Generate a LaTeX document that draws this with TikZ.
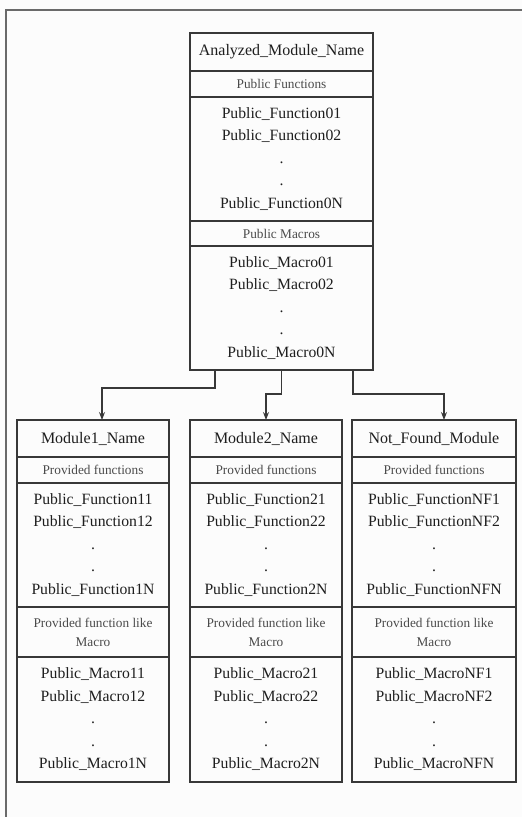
\documentclass[tikz,border=0pt]{standalone}
\usepackage{fontspec}
\setmainfont{Liberation Serif}
\usetikzlibrary{arrows.meta,calc}

\definecolor{edge}{HTML}{383838}
\definecolor{ink}{HTML}{1E1E1E}
\definecolor{inkheader}{HTML}{4A4A4A}
\definecolor{framegray}{HTML}{6A6A6A}
\definecolor{paper}{HTML}{FCFCFC}

\tikzset{
  cell/.style={draw=edge, line width=1.1pt, anchor=north west, inner sep=0pt,
               outer sep=0pt, align=center, text=ink},
  titlecell/.style={cell, font=\fontsize{16}{18}\selectfont},
  headcell/.style={cell, text=inkheader, font=\fontsize{13.3}{19}\selectfont},
  listcell/.style={cell, font=\fontsize{15.7}{22.5}\selectfont},
  link/.style={draw=edge, line width=1.1pt, -{Stealth[length=8pt,width=6pt]}},
}

\begin{document}
\begin{tikzpicture}[x=1pt,y=-1pt]
  \useasboundingbox (0,0) rectangle (522,817);
  \fill[paper] (0,0) rectangle (522,817);
  \draw[framegray, line width=1.4pt] (522,10) -- (6,10) -- (6,817);

  % analysed module
  \node[titlecell, minimum width=183pt, minimum height=38pt] (toptitle) at (190,33) {Analyzed\_Module\_Name};
  \node[headcell, minimum width=183pt, minimum height=26pt] (tophead) at (190,71) {Public Functions};
  \node[listcell, minimum width=183pt, minimum height=124pt] (topfun) at (190,97)
    {Public\_Function01\\Public\_Function02\\.\\.\\Public\_Function0N};
  \node[headcell, minimum width=183pt, minimum height=25pt] (topmhead) at (190,221) {Public Macros};
  \node[listcell, minimum width=183pt, minimum height=124pt] (topmac) at (190,246)
    {Public\_Macro01\\Public\_Macro02\\.\\.\\Public\_Macro0N};

  % module 1
  \node[titlecell, minimum width=152pt, minimum height=37pt] (m1title) at (17,420) {Module1\_Name};
  \node[headcell, minimum width=152pt, minimum height=26pt] (m1head) at (17,457) {Provided functions};
  \node[listcell, minimum width=152pt, minimum height=124pt] (m1fun) at (17,483)
    {Public\_Function11\\Public\_Function12\\.\\.\\Public\_Function1N};
  \node[headcell, minimum width=152pt, minimum height=50pt] (m1mhead) at (17,607) {Provided function like\\Macro};
  \node[listcell, minimum width=152pt, minimum height=125pt] (m1mac) at (17,657)
    {Public\_Macro11\\Public\_Macro12\\.\\.\\Public\_Macro1N};

  % module 2
  \node[titlecell, minimum width=152pt, minimum height=37pt] (m2title) at (190,420) {Module2\_Name};
  \node[headcell, minimum width=152pt, minimum height=26pt] (m2head) at (190,457) {Provided functions};
  \node[listcell, minimum width=152pt, minimum height=124pt] (m2fun) at (190,483)
    {Public\_Function21\\Public\_Function22\\.\\.\\Public\_Function2N};
  \node[headcell, minimum width=152pt, minimum height=50pt] (m2mhead) at (190,607) {Provided function like\\Macro};
  \node[listcell, minimum width=152pt, minimum height=125pt] (m2mac) at (190,657)
    {Public\_Macro21\\Public\_Macro22\\.\\.\\Public\_Macro2N};

  % module not found
  \node[titlecell, minimum width=164pt, minimum height=37pt] (m3title) at (352,420) {Not\_Found\_Module};
  \node[headcell, minimum width=164pt, minimum height=26pt] (m3head) at (352,457) {Provided functions};
  \node[listcell, minimum width=164pt, minimum height=124pt] (m3fun) at (352,483)
    {Public\_FunctionNF1\\Public\_FunctionNF2\\.\\.\\Public\_FunctionNFN};
  \node[headcell, minimum width=164pt, minimum height=50pt] (m3mhead) at (352,607) {Provided function like\\Macro};
  \node[listcell, minimum width=164pt, minimum height=125pt] (m3mac) at (352,657)
    {Public\_MacroNF1\\Public\_MacroNF2\\.\\.\\Public\_MacroNFN};

  % dependencies
  \draw[link] ([xshift=25pt]topmac.south west) -- ++(0,18) -| ([xshift=9pt]m1title.north);
  \draw[link] (topmac.south) -- ++(0,24) -| (m2title.north);
  \draw[link] ([xshift=-20pt]topmac.south east) -- ++(0,24) -| ([xshift=10pt]m3title.north);
\end{tikzpicture}
\end{document}
